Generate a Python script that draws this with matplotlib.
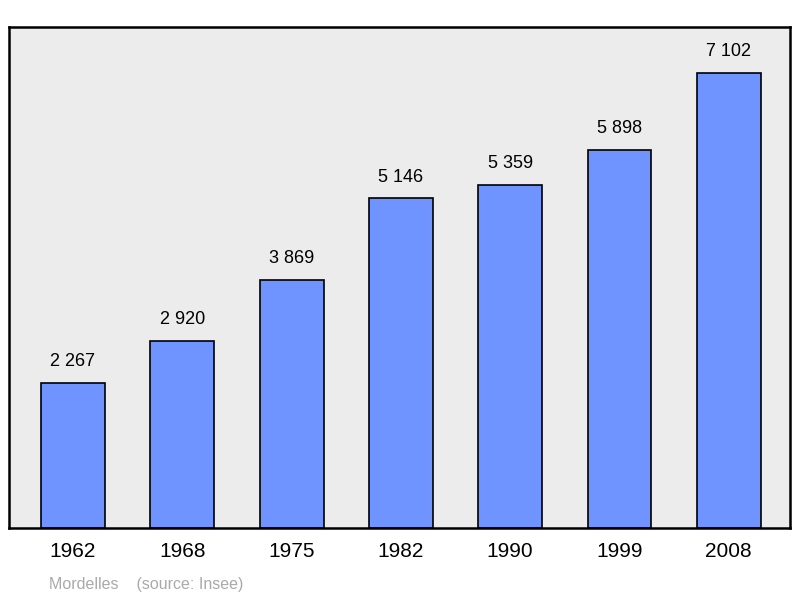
import matplotlib
matplotlib.use("Agg")
import matplotlib.pyplot as plt

years = ["1962", "1968", "1975", "1982", "1990", "1999", "2008"]
values = [2267, 2920, 3869, 5146, 5359, 5898, 7102]
labels = ["2 267", "2 920", "3 869", "5 146", "5 359", "5 898", "7 102"]

plt.rcParams['font.family'] = ['Liberation Sans', 'DejaVu Sans']
fig = plt.figure(figsize=(8, 5.98), dpi=100)
ax = fig.add_axes([9/800, 70/598, 781/800, 501/598])
ax.set_facecolor("#ececec")
x = list(range(len(years)))
ax.bar(x, values, width=0.585, color="#7094ff", edgecolor="black", linewidth=1.2)
for xi, v, l in zip(x, values, labels):
    ax.text(xi, v + 200, l, ha="center", va="bottom", fontsize=13)
ax.set_xlim(-0.585, 6.56)
ax.set_ylim(0, 7820)
ax.set_yticks([])
ax.set_xticks(x)
ax.set_xticklabels(years, fontsize=15)
ax.tick_params(axis="x", length=0, pad=10)
for s in ax.spines.values():
    s.set_linewidth(1.8)
fig.text(49/800, 1 - 584/598, "Mordelles    (source: Insee)", color="#aaaaaa", fontsize=11.5, va="center")
fig.savefig("out.png", dpi=100)
